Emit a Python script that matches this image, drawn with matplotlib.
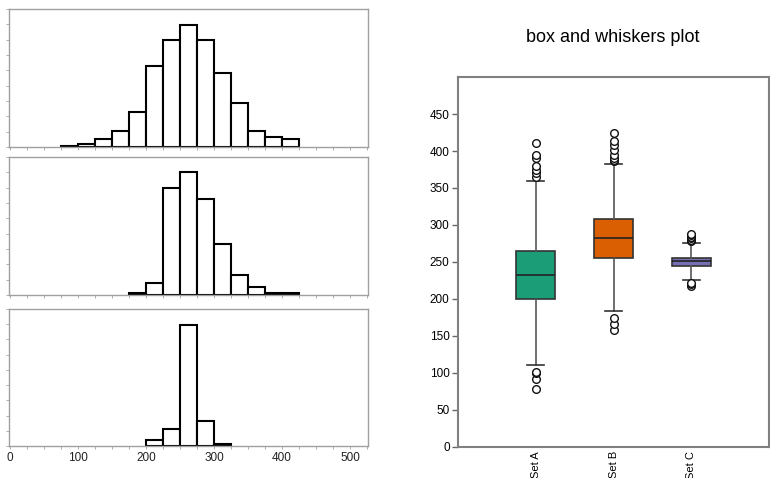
import numpy as np
import matplotlib
matplotlib.use("Agg")
from matplotlib import pyplot as plt
from matplotlib.ticker import MultipleLocator, NullFormatter

plt.rcParams["font.family"] = ["Liberation Sans", "DejaVu Sans"]

# histogram data (bin width 25)
bin_width = 25
hist_a_start = 75
hist_a_counts = [1, 4, 10, 21, 46, 105, 140, 159, 140, 97, 57, 21, 13, 11]
hist_b_start = 175
hist_b_counts = [2, 16, 140, 160, 125, 66, 26, 11, 3, 2]
hist_c_start = 200
hist_c_counts = [8, 22, 159, 33, 3]

# box plot summary values
set_labels = ["Set A", "Set B", "Set C"]
set_colors = ["#1b9e77", "#d95f02", "#7570b3"]
q1 = [200, 256, 244]
med = [233, 282, 252]
q3 = [265, 308, 256]
whislo = [111, 184, 226]
whishi = [359, 383, 275]
fliers = [
    [79, 92, 100, 102, 365, 370, 374, 380, 391, 395, 411],
    [158, 166, 174, 386, 388, 391, 395, 401, 408, 413, 424],
    [218, 220, 222, 278, 280, 282, 284, 286, 288],
]

fig = plt.figure(figsize=(7.7, 4.78), dpi=100)

grey = "#a0a0a0"
hist_rects = [
    [0.0117, 0.6925, 0.466, 0.2887],
    [0.0117, 0.3828, 0.466, 0.2887],
    [0.0117, 0.0669, 0.466, 0.2866],
]
hists = [(hist_a_start, hist_a_counts), (hist_b_start, hist_b_counts),
         (hist_c_start, hist_c_counts)]

for i, (rect, (start, counts)) in enumerate(zip(hist_rects, hists)):
    ax = fig.add_axes(rect)
    lefts = start + bin_width * np.arange(len(counts))
    ax.bar(lefts, counts, width=bin_width, align="edge", color="white",
           edgecolor="black", linewidth=1.5)
    ax.set_xlim(-1.5, 526)
    ax.set_ylim(0, 180)
    for s in ax.spines.values():
        s.set_color(grey)
        s.set_linewidth(1.0)
    ax.yaxis.set_major_locator(MultipleLocator(20))
    ax.yaxis.set_major_formatter(NullFormatter())
    ax.xaxis.set_major_locator(MultipleLocator(100))
    ax.xaxis.set_minor_locator(MultipleLocator(25))
    ax.tick_params(axis="both", which="both", direction="out", length=2,
                   width=0.6, color=grey, labelsize=8.5, labelcolor="#222222",
                   pad=2)
    if i < 2:
        ax.xaxis.set_major_formatter(NullFormatter())

# box and whiskers
axb = fig.add_axes([0.5948, 0.0649, 0.404, 0.774])
stats = []
for k in range(len(set_labels)):
    stats.append({"label": set_labels[k], "q1": q1[k], "med": med[k],
                  "q3": q3[k], "whislo": whislo[k], "whishi": whishi[k],
                  "fliers": fliers[k]})
bp = axb.bxp(stats, positions=[1, 2, 3], widths=0.5, capwidths=0.22,
             patch_artist=True,
             boxprops=dict(edgecolor="#333333", linewidth=1.2),
             medianprops=dict(color="#222222", linewidth=1.2),
             whiskerprops=dict(color="#555555", linewidth=1.2),
             capprops=dict(color="#333333", linewidth=1.2),
             flierprops=dict(marker="o", markerfacecolor="white",
                             markeredgecolor="#111111", markersize=5.5,
                             markeredgewidth=1.0))
for patch, c in zip(bp["boxes"], set_colors):
    patch.set_facecolor(c)

axb.set_xlim(0, 4)
axb.set_ylim(0, 500)
axb.set_yticks(np.arange(0, 451, 50))
axb.set_xticks([1, 2, 3])
axb.set_xticklabels(set_labels, rotation=90)
for s in axb.spines.values():
    s.set_color("#808080")
    s.set_linewidth(1.5)
axb.tick_params(axis="y", direction="out", length=4, width=1, color="#666666",
                labelsize=8.5, pad=2)
axb.tick_params(axis="x", length=0, labelsize=8, pad=3)

fig.text(0.796, 0.922, "box and whiskers plot", ha="center", va="center",
         fontsize=13)

fig.savefig("out.png", dpi=100)
